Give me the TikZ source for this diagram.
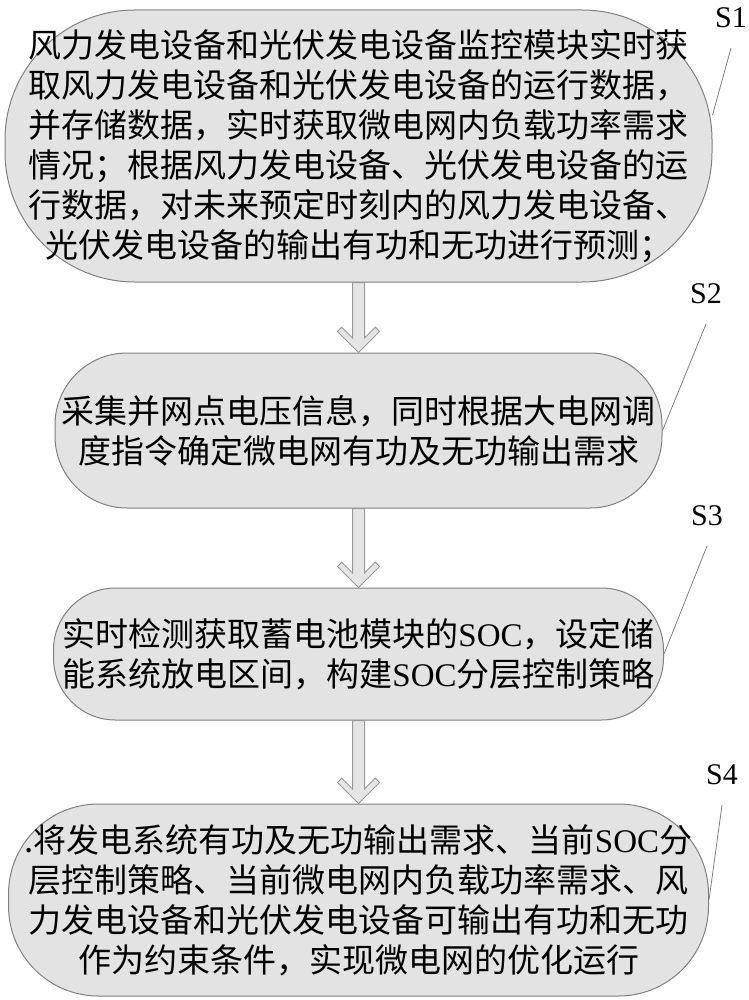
\documentclass[tikz,border=0pt]{standalone}
\usepackage{fontspec}
\setmainfont{Liberation Serif}
\newfontfamily\cjk{Noto Sans CJK SC}
\usepackage{tikz}
\usetikzlibrary{positioning, calc}
\tikzstyle{stepbox} = [rectangle, draw=gray, line width=1pt, fill=gray!22, align=center, inner sep=0pt, font=\cjk\fontsize{33pt}{40pt}\selectfont]
\tikzstyle{steplabel} = [font=\fontsize{30pt}{30pt}\selectfont, inner sep=2pt, outer sep=18pt]
\tikzstyle{leader} = [draw=gray, line width=0.8pt]
\tikzstyle{flowarrow} = [draw=gray!80, fill=gray!20, line width=1pt, line join=miter]
% hollow block arrow from one step to the next
\newcommand{\stepflow}[2]{%
  \draw[flowarrow] let \p1=(#1.south), \p2=(#2.north) in
    ({\x1-6pt},\y1) -- ({\x2-6pt},{\y2+14.5pt}) -- ({\x2-16.8pt},{\y2+25.3pt})
    -- ({\x2-21pt},{\y2+21pt}) -- (\p2) -- ({\x2+21pt},{\y2+21pt})
    -- ({\x2+16.8pt},{\y2+25.3pt}) -- ({\x2+6pt},{\y2+14.5pt}) -- ({\x1+6pt},\y1) -- cycle;}

\begin{document}
\begin{tikzpicture}[x=1pt, y=-1pt]
    \useasboundingbox (0,0) rectangle (748,1000);

    % Steps
    \node[stepbox, minimum width=707pt, minimum height=272pt, rounded corners=130pt] (box1) at (358.5,146)
        {风力发电设备和光伏发电设备监控模块实时获\\取风力发电设备和光伏发电设备的运行数据，\\并存储数据，实时获取微电网内负载功率需求\\情况；根据风力发电设备、光伏发电设备的运\\行数据，对未来预定时刻内的风力发电设备、\\光伏发电设备的输出有功和无功进行预测；};
    \node[stepbox, below=70pt of box1, minimum width=607pt, minimum height=155pt, rounded corners=72pt] (box2)
        {采集并网点电压信息，同时根据大电网调\\度指令确定微电网有功及无功输出需求};
    \node[stepbox, below=79pt of box2, minimum width=610pt, minimum height=132pt, rounded corners=62pt] (box3)
        {实时检测获取蓄电池模块的{\rmfamily SOC}，设定储\\能系统放电区间，构建{\rmfamily SOC}分层控制策略};
    \node[stepbox, below=83pt of box3, minimum width=700pt, minimum height=192pt, rounded corners=90pt] (box4)
        {.将发电系统有功及无功输出需求、当前{\rmfamily SOC}分\\层控制策略、当前微电网内负载功率需求、风\\力发电设备和光伏发电设备可输出有功和无功\\作为约束条件，实现微电网的优化运行};

    % Step labels
    \node[steplabel] (s1lab) at (731,18) {S1};
    \node[steplabel] (s2lab) at (706,294) {S2};
    \node[steplabel] (s3lab) at (707,516) {S3};
    \node[steplabel] (s4lab) at (722,775) {S4};

    \draw[leader] (s1lab.south) -- (box1.5);
    \draw[leader] (s2lab.south) -- (box2.east);
    \draw[leader] (s3lab.south) -- (box3.east);
    \draw[leader] (s4lab.south) -- (box4.east);

    % Arrows
    \stepflow{box1}{box2}
    \stepflow{box2}{box3}
    \stepflow{box3}{box4}

\end{tikzpicture}
\end{document}
